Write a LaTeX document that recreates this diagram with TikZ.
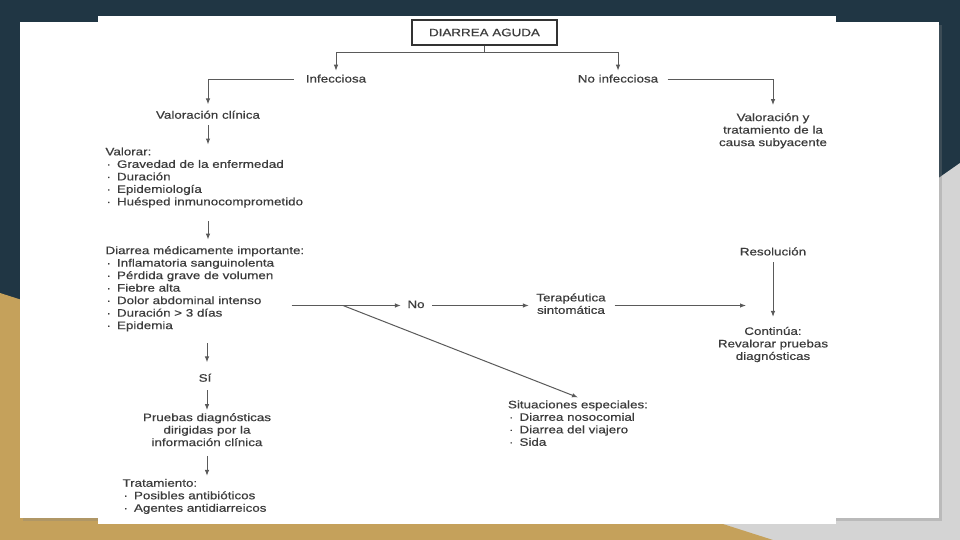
\documentclass[tikz,border=0pt]{standalone}
\usepackage{fontspec}
\setmainfont{Liberation Sans}[FakeStretch=1.24,FakeBold=0.5]
\usetikzlibrary{arrows.meta,shadows}
\definecolor{navy}{HTML}{203644}
\definecolor{gold}{HTML}{C5A15B}
\definecolor{lgray}{HTML}{D4D4D4}
\definecolor{ink}{HTML}{3C3C3C}
\definecolor{wire}{HTML}{5A5A5A}
\newcommand{\bul}{\makebox[11.5pt][l]{\hspace{1pt}·}}
\begin{document}
\begin{tikzpicture}[x=1pt,y=-1pt,
  font=\fontsize{10.8}{12.5}\selectfont,
  txt/.style={inner sep=0pt, outer sep=3pt, text=ink, align=center, yshift=-1.5pt,
    execute at begin node=\strut, execute at end node=\strut},
  lst/.style={txt, align=left, anchor=west},
  arr/.style={draw=wire, line width=1pt, -{Latex[length=6pt,width=4.5pt]}},
  titlebox/.style={draw=black!80, line width=1.6pt, minimum width=145pt,
    minimum height=25pt, inner sep=0pt, text=ink}]
\useasboundingbox (0,0) rectangle (960,540);
% background
\fill[navy] (0,0) rectangle (960,540);
\fill[lgray] (960,163) -- (422,540) -- (960,540) -- cycle;
\fill[gold] (0,293) -- (773,540) -- (0,540) -- cycle;
\fill[white, drop shadow={shadow xshift=3pt, shadow yshift=-3pt, opacity=0.3}] (20,22) rectangle (939,518);
\fill[white] (98,16) rectangle (836,524);
% nodes
\node[titlebox] (tbox) at (484.5,32.5) {\raisebox{-1pt}{DIARREA AGUDA}};
\node[txt] (infec) at (336,78.5) {Infecciosa};
\node[txt] (noinf) at (618,78.5) {No infecciosa};
\node[txt] (valc) at (208,114.7) {Valoración clínica};
\node[txt] (valy) at (773,130) {Valoración y\\tratamiento de la\\causa subyacente};
\node[lst] (valorar) at (102.5,176.8) {Valorar:\\\bul Gravedad de la enfermedad\\\bul Duración\\\bul Epidemiología\\\bul Huésped inmunocomprometido};
\node[lst] (diarrea) at (102.5,288) {Diarrea médicamente importante:\\\bul Inflamatoria sanguinolenta\\\bul Pérdida grave de volumen\\\bul Fiebre alta\\\bul Dolor abdominal intenso\\\bul Duración > 3 días\\\bul Epidemia};
\node[txt] (si) at (205,377.7) {Sí};
\node[txt] (pruebas) at (207,430) {Pruebas diagnósticas\\dirigidas por la\\información clínica};
\node[lst] (trat) at (119.5,495.7) {Tratamiento:\\\bul Posibles antibióticos\\\bul Agentes antidiarreicos};
\node[txt] (no) at (416,304) {No};
\node[txt] (ter) at (571,304) {Terapéutica\\sintomática};
\node[lst] (sit) at (505,423.5) {Situaciones especiales:\\\bul Diarrea nosocomial\\\bul Diarrea del viajero\\\bul Sida};
\node[txt] (resol) at (773,251.4) {Resolución};
\node[txt] (cont) at (773,343.8) {Continúa:\\Revalorar pruebas\\diagnósticas};
\coordinate (dstart) at (291.5,305.5);
\coordinate (dsplit) at (343,305.5);
\coordinate (rend) at (746,305.5);
% connectors
\draw[arr] (tbox.south) -- ++(0,7) -| (infec.north);
\draw[arr] (tbox.south) -- ++(0,7) -| (noinf.north);
\draw[arr, shorten <=9pt, shorten >=2.5pt] (infec.west) -| (valc.north);
\draw[arr, shorten <=6.3pt, shorten >=5pt] (noinf.east) -| (valy.north);
\draw[arr] (valc.south) -- (valc.south |- valorar.north);
\draw[arr, shorten <=9pt, shorten >=3.5pt] (valc.south |- valorar.south) -- (valc.south |- diarrea.north);
\draw[arr, shorten <=7.5pt, shorten >=7.5pt] (pruebas |- diarrea.south) -- (pruebas |- si.north);
\draw[arr, shorten <=2pt] (pruebas |- si.south) -- (pruebas.north);
\draw[arr, shorten <=3pt] (pruebas.south) -- (pruebas.south |- trat.north);
\draw[arr, shorten >=3.5pt] (dstart) -- (no.west);
\draw[arr] (dsplit) -- (sit.north);
\draw[arr, shorten <=4.5pt, shorten >=4.5pt] (no.east) -- (ter.west);
\draw[arr, shorten <=6pt] (ter.east) -- (rend);
\draw[arr, shorten >=7pt] (resol.south) -- (cont.north);
\end{tikzpicture}
\end{document}
